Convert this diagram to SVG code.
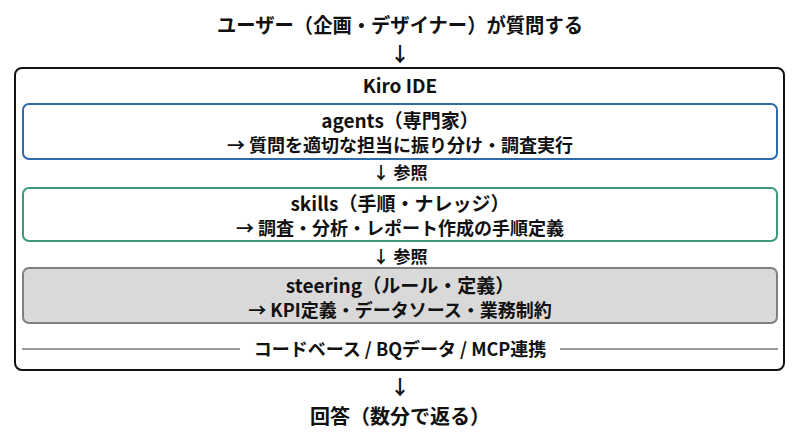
<svg xmlns="http://www.w3.org/2000/svg" width="800" height="436" viewBox="0 0 800 436">
<style>
text{font-family:"Noto Sans CJK JP","Noto Sans",sans-serif;font-weight:700;fill:#111;text-anchor:middle}
.t{font-size:20px}
.h{font-size:19px}
.s{font-size:18px}
.r{font-size:17px}
</style>
<rect width="800" height="436" fill="#fff"/>
<g id="user"><text class="t" x="400" y="33" textLength="366" lengthAdjust="spacingAndGlyphs">ユーザー（企画・デザイナー）が質問する</text></g>
<g id="kiro">
<rect x="15" y="68" width="769" height="302" rx="7" fill="#fff" stroke="#111" stroke-width="2"/>
<text class="h" x="400" y="93">Kiro IDE</text>
</g>
<g id="agents">
<rect x="23" y="104" width="754" height="55" rx="6" fill="#fff" stroke="#2e6aa8" stroke-width="2"/>
<text class="h" x="400" y="128">agents（専門家）</text>
<text class="s" x="400" y="152">→ 質問を適切な担当に振り分け・調査実行</text>
</g>
<g id="skills">
<rect x="23" y="188" width="754" height="53" rx="6" fill="#fff" stroke="#3a9a7a" stroke-width="2"/>
<text class="h" x="400" y="211">skills（手順・ナレッジ）</text>
<text class="s" x="400" y="235">→ 調査・分析・レポート作成の手順定義</text>
</g>
<g id="steering">
<rect x="23" y="268" width="754" height="55" rx="6" fill="#d9d9d9" stroke="#808080" stroke-width="2"/>
<text class="h" x="400" y="293">steering（ルール・定義）</text>
<text class="s" x="400" y="317">→ KPI定義・データソース・業務制約</text>
</g>
<g id="base">
<line x1="22" y1="349" x2="240" y2="349" stroke="#777" stroke-width="1.5"/>
<line x1="560" y1="349" x2="778" y2="349" stroke="#777" stroke-width="1.5"/>
<text class="s" x="400" y="356">コードベース / BQデータ / MCP連携</text>
</g>
<g id="answer"><text class="t" x="400" y="424">回答（数分で返る）</text></g>
<g id="connectors">
<text class="t" x="400" y="62">↓</text>
<text class="r" x="400" y="179">↓ 参照</text>
<text class="r" x="400" y="263">↓ 参照</text>
<text class="t" x="400" y="395">↓</text>
</g>
</svg>
